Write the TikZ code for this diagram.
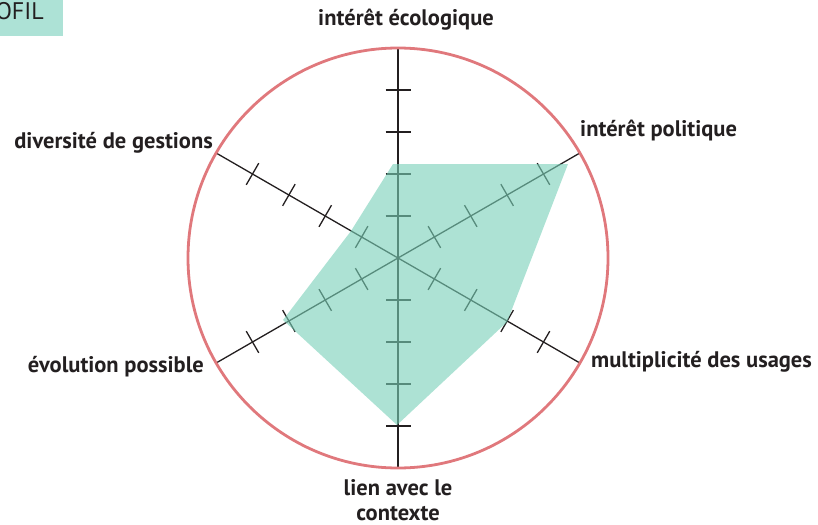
\documentclass[tikz,border=0pt]{standalone}
\usepackage{fontspec}
\setmainfont{PT Sans}
\usetikzlibrary{calc}
\definecolor{fillgreen}{RGB}{121,208,184}
\definecolor{boxgreen}{RGB}{173,226,214}
\definecolor{ringred}{RGB}{224,120,124}
\definecolor{inkdark}{RGB}{35,31,32}
\begin{document}
\begin{tikzpicture}[x=1pt,y=-1pt,
  axisline/.style={draw=inkdark,line width=1.3pt},
  ticklbl/.style={font=\fontsize{22.5}{26}\selectfont\bfseries,text=inkdark,inner sep=0pt},
  ring/.style={draw=ringred,line width=2.8pt},
  profil/.style={fill=fillgreen,fill opacity=0.61,draw=none}]
\useasboundingbox (0,0) rectangle (818,524);
% header box
\fill[boxgreen] (0,0) rectangle (63,36);
\node[anchor=base east,inner sep=0pt,font=\fontsize{24}{26}\selectfont,text=inkdark] (hdr) at (44,20) {OFIL};
\coordinate (C) at (398,258);
% axes and ticks
\foreach \a/\n in {90/top,30/ur,-30/lr,-90/bot,210/ll,150/ul}{
  \coordinate (\n) at ($(C)+({210*cos(\a)},{-210*sin(\a)})$);
  \draw[axisline] (C) -- (\n);
  \foreach \k in {1,2,3,4}{
    \coordinate (t\n\k) at ($(C)+({42*\k*cos(\a)},{-42*\k*sin(\a)})$);
    \draw[axisline] ($(t\n\k)+({12.5*cos(\a+90)},{-12.5*sin(\a+90)})$) -- ($(t\n\k)+({12.5*cos(\a-90)},{-12.5*sin(\a-90)})$);
  }
}
% profile polygon
\coordinate (p1) at (393,164);
\coordinate (p2) at (568,164);
\coordinate (p3) at (507,322);
\coordinate (p4) at (397,425);
\coordinate (p5) at (283,320);
\coordinate (p6) at (351,231);
\path[profil] (p1) -- (p2) -- (p3) -- (p4) -- (p5) -- (p6) -- cycle;
% ring
\draw[ring] (C) circle[radius=210];
% labels
\node[ticklbl,anchor=base] (l1) at (406,26) {intérêt écologique};
\node[ticklbl,anchor=base west] (l2) at (580,136) {intérêt politique};
\node[ticklbl,anchor=base west] (l3) at (591,367) {multiplicité des usages};
\node[ticklbl,anchor=base] (l4a) at (398,495) {lien avec le};
\node[ticklbl,anchor=base,text depth=0pt] (l4b) at (398,520) {contexte};
\node[ticklbl,anchor=base east] (l5) at (204,372) {évolution possible};
\node[ticklbl,anchor=base east] (l6) at (213,148) {diversité de gestions};
\end{tikzpicture}
\end{document}
